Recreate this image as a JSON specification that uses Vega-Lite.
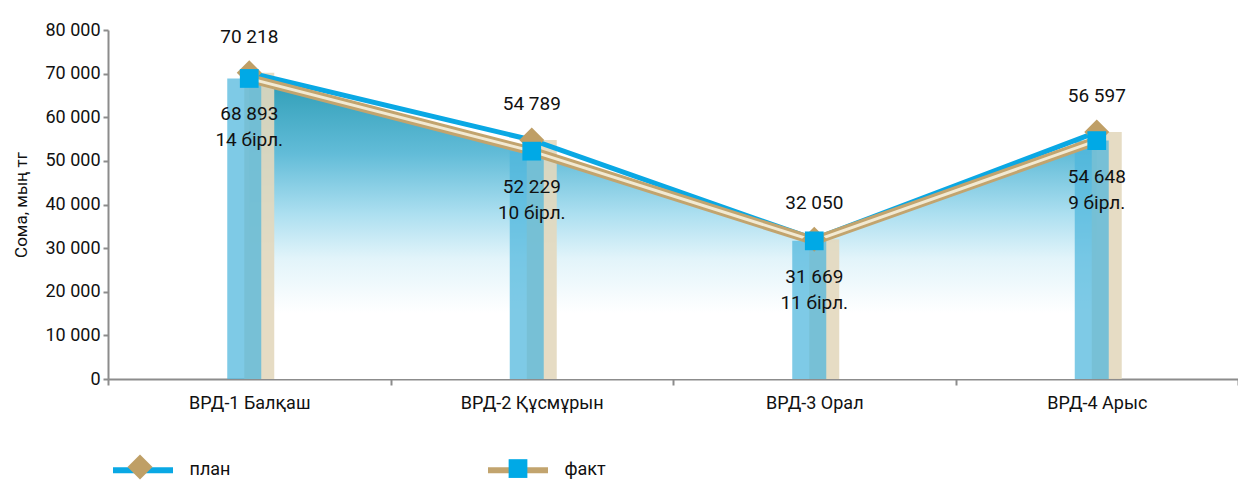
{
  "$schema": "https://vega.github.io/schema/vega-lite/v6.json",
  "width": 1130,
  "height": 349,
  "autosize": {"type": "none"},
  "padding": {"left": 108, "top": 30, "right": 0, "bottom": 101},
  "background": "white",
  "config": {
    "locale": {"number": {"decimal": ",", "thousands": " ", "grouping": [3], "currency": ["", ""]}},
    "font": "Roboto",
    "view": {"stroke": null},
    "axis": {"labelFont": "Roboto", "titleFont": "Roboto", "labelColor": "#111111", "titleColor": "#111111", "domainColor": "#8c8c8c", "domainWidth": 2, "tickColor": "#8c8c8c", "tickWidth": 2, "grid": false},
    "legend": {"labelFont": "Roboto"},
    "text": {"font": "Roboto"}
  },
  "data": {"values": [
    {"region": "ВРД-1 Балқаш", "план": 70218, "факт": 68893, "count": "14 бірл."},
    {"region": "ВРД-2 Құсмұрын", "план": 54789, "факт": 52229, "count": "10 бірл."},
    {"region": "ВРД-3 Орал", "план": 32050, "факт": 31669, "count": "11 бірл."},
    {"region": "ВРД-4 Арыс", "план": 56597, "факт": 54648, "count": "9 бірл."}
  ]},
  "encoding": {
    "x": {"field": "region", "type": "nominal", "sort": null,
      "scale": {"paddingInner": 0, "paddingOuter": 0},
      "axis": {"title": null, "labelAngle": 0, "labelFontSize": 18, "tickBand": "extent", "tickSize": 6, "labelPadding": 9}}
  },
  "layer": [
    {
      "mark": {"type": "area", "line": false, "color": {"gradient": "linear", "x1": 0, "y1": 0, "x2": 0, "y2": 1, "stops": [{"offset": 0, "color": "#2e9db6"}, {"offset": 0.25, "color": "#62bcd8"}, {"offset": 0.45, "color": "#acdff0"}, {"offset": 0.6, "color": "#e2f4fa"}, {"offset": 0.78, "color": "#ffffff"}, {"offset": 1, "color": "#ffffff"}]}},
      "encoding": {"y": {"field": "факт", "type": "quantitative", "scale": {"domain": [0, 80000]},
        "axis": {"title": "Сома, мың тг", "titleFontSize": 17, "titleFontWeight": "normal", "titlePadding": 14, "values": [0, 10000, 20000, 30000, 40000, 50000, 60000, 70000, 80000], "format": ",d", "labelFontSize": 18, "tickSize": 5, "labelPadding": 3}}}
    },
    {
      "mark": {"type": "bar", "width": 30, "xOffset": 10, "color": "#e3d8be", "opacity": 0.9},
      "encoding": {"y": {"field": "план", "type": "quantitative"}}
    },
    {
      "mark": {"type": "bar", "width": 34, "xOffset": -5, "color": "#4cb6dc", "opacity": 0.72},
      "encoding": {"y": {"field": "факт", "type": "quantitative"}}
    },
    {
      "transform": [{"fold": ["план", "факт"], "as": ["series", "value"]}],
      "mark": {"type": "line"},
      "encoding": {
        "y": {"field": "value", "type": "quantitative"},
        "stroke": {"field": "series", "type": "nominal", "scale": {"range": ["#0aa8e4", "#c2a46e"]},
          "legend": {"orient": "none", "legendX": 19.5, "legendY": 424.5, "direction": "horizontal", "title": null, "symbolType": "M-2.4,0H2.4", "symbolSize": 625, "symbolStrokeWidth": 6, "labelOffset": 31, "labelFontSize": 18, "labelColor": "#111111", "columnPadding": 245, "padding": 0}},
        "strokeWidth": {"field": "series", "type": "ordinal", "scale": {"domain": ["план", "факт"], "range": [5, 9]}, "legend": null}
      }
    },
    {
      "mark": {"type": "line", "color": "#f2ead3", "strokeWidth": 3},
      "encoding": {"y": {"field": "факт", "type": "quantitative"}}
    },
    {
      "transform": [{"fold": ["план", "факт"], "as": ["marker", "value"]}],
      "mark": {"type": "point", "filled": true, "size": 625, "opacity": 1, "strokeWidth": 0},
      "encoding": {
        "y": {"field": "value", "type": "quantitative"},
        "shape": {"field": "marker", "type": "nominal", "scale": {"range": ["M0,-1L1,0L0,1L-1,0Z", "M-0.75,-0.75H0.75V0.75H-0.75Z"]},
          "legend": {"orient": "none", "legendX": 19.5, "legendY": 424.5, "direction": "horizontal", "title": null, "symbolSize": 625, "symbolStrokeWidth": 0, "symbolOpacity": 1, "labelOffset": 31, "labelFontSize": 18, "labelExpr": "''", "columnPadding": 322, "padding": 0}},
        "fill": {"field": "marker", "type": "nominal", "scale": {"range": ["#bf9f66", "#00a9e6"]}}
      }
    },
    {
      "mark": {"type": "text", "dy": -36, "fontSize": 19, "color": "#111111", "baseline": "middle"},
      "encoding": {"y": {"field": "план", "type": "quantitative"}, "text": {"field": "план", "type": "quantitative", "format": ",d"}}
    },
    {
      "mark": {"type": "text", "dy": 36, "fontSize": 19, "color": "#111111", "baseline": "middle"},
      "encoding": {"y": {"field": "факт", "type": "quantitative"}, "text": {"field": "факт", "type": "quantitative", "format": ",d"}}
    },
    {
      "mark": {"type": "text", "dy": 62, "fontSize": 19, "color": "#111111", "baseline": "middle"},
      "encoding": {"y": {"field": "факт", "type": "quantitative"}, "text": {"field": "count", "type": "nominal"}}
    }
  ]
}
